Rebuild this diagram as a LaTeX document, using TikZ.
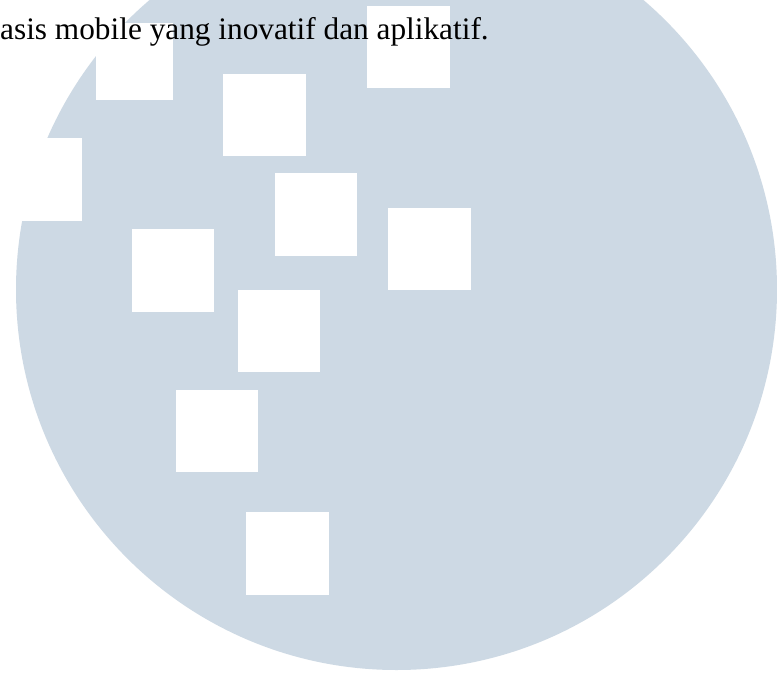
\documentclass[tikz,border=0pt]{standalone}
\usepackage{fontspec}
\setmainfont{Liberation Serif}
\definecolor{disc}{RGB}{205,217,228}
\begin{document}
\begin{tikzpicture}[x=1pt,y=-1pt,
  hole/.style={fill=white,draw=none},
  caption/.style={inner sep=0pt,anchor=base west,font=\fontsize{31.3}{36}\selectfont,text=black}]
\useasboundingbox (0,0) rectangle (777,675);
\fill[white] (0,0) rectangle (777,675);
\fill[disc] (396.5,289.5) circle[radius=380.5];
\fill[hole] (96,23) rectangle (173,100);
\fill[hole] (367.3,5.7) rectangle (450,88.3);
\fill[hole] (223,74) rectangle (306,156);
\fill[hole] (0,138.3) rectangle (81.7,220.5);
\fill[hole] (275,173) rectangle (357,256);
\fill[hole] (388,208) rectangle (471,290);
\fill[hole] (132,229) rectangle (214,311.5);
\fill[hole] (238,290) rectangle (320,372);
\fill[hole] (176,390) rectangle (258,472);
\fill[hole] (246,512) rectangle (329,595);
\node[caption] (txt) at (0,39.3) {asis mobile yang inovatif dan aplikatif.};
\end{tikzpicture}
\end{document}
